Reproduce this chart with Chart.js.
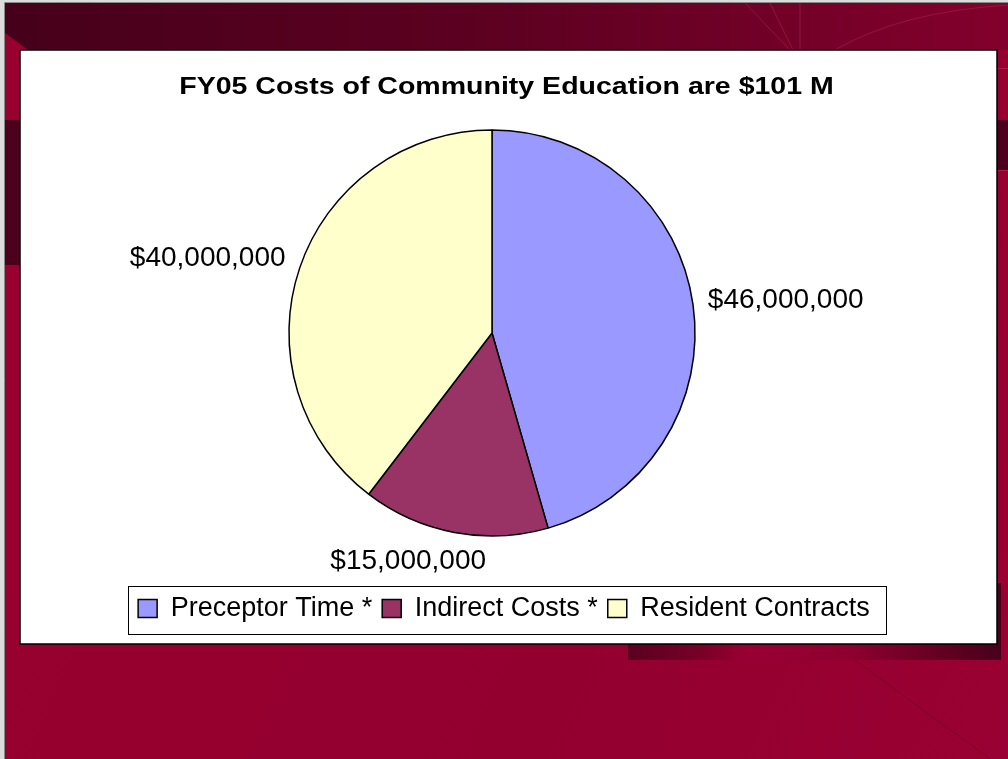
<!DOCTYPE html>
<html>
<head>
<meta charset="utf-8">
<script src="https://cdn.jsdelivr.net/npm/chart.js@4/dist/chart.umd.min.js"></script>
<style>
  html, body { margin: 0; padding: 0; background: #dcdcdc; }
  #wrap { width: 1008px; height: 759px; }
</style>
</head>
<body>
<div id="wrap"><canvas id="costChart" width="1008" height="759"></canvas></div>
<script>
// FY05 community education costs
const categories = ['Preceptor Time *', 'Indirect Costs *', 'Resident Contracts'];
const costValues = [46000000, 15000000, 40000000];
const sliceColors = ['#9999FF', '#993366', '#FFFFCC'];

const totalCost = costValues.reduce((a, b) => a + b, 0);
const chartTitle = 'FY05 Costs of Community Education are $' + Math.round(totalCost / 1e6) + ' M';

const FONT = '"Liberation Sans", Arial, sans-serif';

function money(v) {
  return '$' + v.toLocaleString('en-US');
}

// slide backdrop + white chart panel
const slideBackground = {
  id: 'slideBackground',
  beforeDraw(chart) {
    const ctx = chart.ctx;
    ctx.save();
    ctx.fillStyle = '#dcdcdc';
    ctx.fillRect(0, 0, 1008, 759);

    // crimson slide body
    let g = ctx.createLinearGradient(0, 300, 1008, 759);
    g.addColorStop(0, '#98002f');
    g.addColorStop(0.6, '#930030');
    g.addColorStop(1, '#9a0033');
    ctx.fillStyle = g;
    ctx.fillRect(5, 3, 1003, 756);
    ctx.strokeStyle = '#8a8a8a';
    ctx.lineWidth = 1;
    ctx.beginPath();
    ctx.moveTo(4.5, 759); ctx.lineTo(4.5, 2.5); ctx.lineTo(1008, 2.5);
    ctx.stroke();

    // dark top band
    g = ctx.createLinearGradient(5, 0, 1008, 0);
    g.addColorStop(0, '#46001a');
    g.addColorStop(0.5, '#5e0021');
    g.addColorStop(1, '#83002d');
    ctx.fillStyle = g;
    ctx.beginPath();
    ctx.moveTo(5, 3); ctx.lineTo(1008, 3); ctx.lineTo(1008, 50);
    ctx.lineTo(28, 50); ctx.lineTo(5, 33);
    ctx.closePath();
    ctx.fill();

    // faint fan lines and arc in the top band
    ctx.strokeStyle = 'rgba(190, 40, 90, 0.45)';
    ctx.lineWidth = 1;
    ctx.beginPath();
    ctx.moveTo(745, 3); ctx.lineTo(790, 50);
    ctx.moveTo(770, 3); ctx.lineTo(793, 50);
    ctx.moveTo(800, 3); ctx.lineTo(800, 50);
    ctx.moveTo(835, 50); ctx.quadraticCurveTo(900, 12, 1008, 5);
    ctx.stroke();

    // darker side bands
    ctx.fillStyle = '#4c001b';
    ctx.fillRect(5, 120, 15, 145);
    ctx.fillRect(997, 120, 11, 50);
    ctx.strokeStyle = 'rgba(200, 50, 100, 0.5)';
    ctx.beginPath();
    ctx.moveTo(997, 68.5); ctx.lineTo(1008, 68.5);
    ctx.moveTo(997, 170.5); ctx.lineTo(1008, 170.5);
    ctx.stroke();

    // shaded bar under the panel's right corner
    g = ctx.createLinearGradient(628, 0, 1001, 0);
    g.addColorStop(0, '#5a0020');
    g.addColorStop(0.2, '#7a0028');
    g.addColorStop(0.32, '#990033');
    g.addColorStop(0.6, '#8e002f');
    g.addColorStop(1, '#48001a');
    ctx.fillStyle = g;
    ctx.fillRect(628, 583, 373, 77);

    // faint diagonal in the lower right
    ctx.strokeStyle = 'rgba(70, 0, 25, 0.35)';
    ctx.beginPath();
    ctx.moveTo(855, 660); ctx.lineTo(990, 759);
    ctx.stroke();

    // chart panel
    ctx.fillStyle = '#ffffff';
    ctx.fillRect(20, 50, 977, 594);
    ctx.strokeStyle = '#000000';
    ctx.lineWidth = 1.5;
    ctx.strokeRect(20, 50, 977, 594);
    ctx.restore();
  }
};

// bold title, drawn a little wide like the slide's stretched chart
const wideTitle = {
  id: 'wideTitle',
  afterDraw(chart) {
    const ctx = chart.ctx;
    ctx.save();
    ctx.font = 'bold 23px ' + FONT;
    ctx.fillStyle = '#000';
    ctx.textAlign = 'center';
    ctx.textBaseline = 'alphabetic';
    ctx.translate(506.5, 94);
    ctx.scale(1.24, 1);
    ctx.fillText(chartTitle, 0, 0);
    ctx.restore();
  }
};

// value labels just outside each slice; side labels hang outward,
// the bottom one slides toward the side its slice leans to
const outsideLabels = {
  id: 'outsideLabels',
  afterDatasetsDraw(chart) {
    const ctx = chart.ctx;
    const meta = chart.getDatasetMeta(0);
    const data = chart.data.datasets[0].data;
    ctx.save();
    ctx.font = '28px ' + FONT;
    ctx.fillStyle = '#000';
    ctx.textAlign = 'center';
    ctx.textBaseline = 'middle';
    meta.data.forEach((arc, i) => {
      const p = arc.getProps(['x', 'y', 'startAngle', 'endAngle', 'outerRadius'], true);
      const mid = (p.startAngle + p.endAngle) / 2;
      const cos = Math.cos(mid), sin = Math.sin(mid);
      const r = p.outerRadius + 15;
      const txt = money(data[i]);
      const w = ctx.measureText(txt).width;
      const h = 28;
      const kx = Math.max(-1, Math.min(1, cos * 3));
      ctx.fillText(txt, p.x + cos * r + kx * w / 2, p.y + sin * r + sin * h / 2);
    });
    ctx.restore();
  }
};

// legend sits a bit right of the pie, with a thin frame round it
const legendFrame = {
  id: 'legendFrame',
  afterLayout(chart) {
    chart.legend.left += 12;
    chart.legend.right += 12;
  },
  afterDraw(chart) {
    const boxes = chart.legend.legendHitBoxes;
    if (!boxes || !boxes.length) return;
    const left = Math.min(...boxes.map(b => b.left)) - 10;
    const right = Math.max(...boxes.map(b => b.left + b.width)) + 16;
    const top = Math.min(...boxes.map(b => b.top)) - 9;
    const bottom = Math.max(...boxes.map(b => b.top + b.height)) + 12;
    const ctx = chart.ctx;
    ctx.save();
    ctx.strokeStyle = '#000';
    ctx.lineWidth = 1;
    ctx.strokeRect(Math.round(left) + 0.5, Math.round(top) + 0.5, Math.round(right - left), Math.round(bottom - top));
    ctx.restore();
  }
};

const ctxEl = document.getElementById('costChart');
const costChart = new Chart(ctxEl, {
  type: 'pie',
  data: {
    labels: categories,
    datasets: [{
      data: costValues,
      backgroundColor: sliceColors,
      borderColor: '#000000',
      borderWidth: 1.5,
      radius: 203
    }]
  },
  options: {
    responsive: false,
    animation: false,
    devicePixelRatio: 1,
    events: [],
    layout: { padding: { top: 81, bottom: 127, left: 20, right: 44 } },
    plugins: {
      title: { display: false },
      tooltip: { enabled: false },
      legend: {
        position: 'bottom',
        labels: {
          boxWidth: 19,
          boxHeight: 18,
          padding: 10,
          color: '#000',
          font: { size: 27, family: FONT }
        }
      }
    }
  },
  plugins: [slideBackground, outsideLabels, legendFrame, wideTitle]
});
</script>
</body>
</html>
